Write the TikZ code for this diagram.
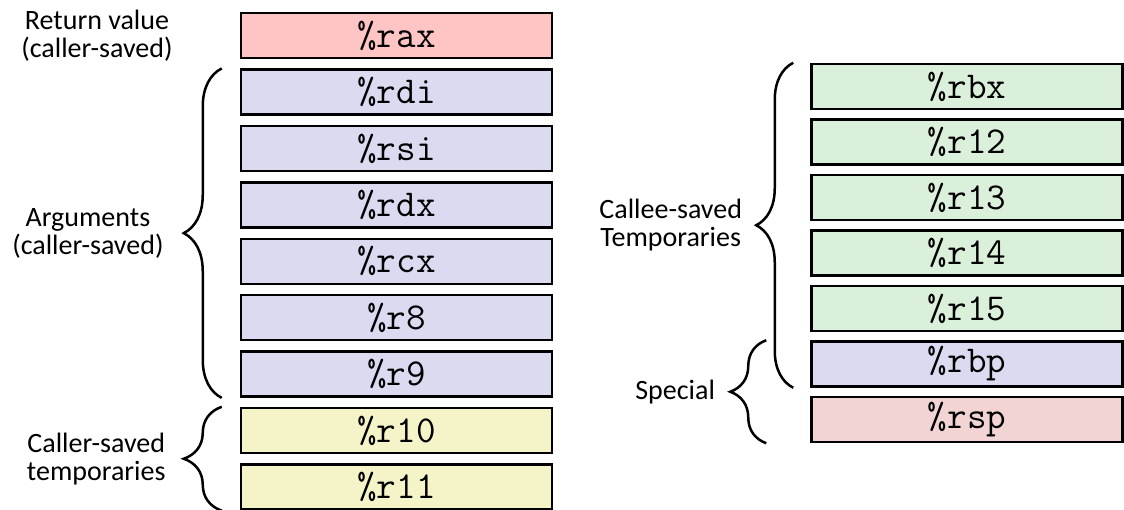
\documentclass[tikz,border=0pt]{standalone}
\usepackage{fontspec}
\setmainfont{Carlito}
\usetikzlibrary{positioning,decorations.pathreplacing}
\definecolor{retred}{HTML}{FFC5C5}
\definecolor{argblue}{HTML}{DADAF0}
\definecolor{tmpyellow}{HTML}{F5F3C8}
\definecolor{calleegreen}{HTML}{DAF0DA}
\definecolor{sppink}{HTML}{F2D4D4}

\begin{document}
\begin{tikzpicture}[x=1pt,y=-1pt,node distance=8.9pt,
reg/.style={draw=black,line width=2.5pt,minimum width=311pt,minimum height=45pt,inner sep=0pt,font=\fontsize{38}{38}\selectfont\ttfamily},
lbl/.style={align=center,inner sep=0pt,font=\fontsize{28}{28}\selectfont},
brc/.style={decorate,decoration={brace,amplitude=38pt},line width=2.5pt}]
\useasboundingbox (0,0) rectangle (1124,510);
% caller side
\node[reg,fill=retred] (rax) at (396.5,35.75) {\%rax};
\node[reg,fill=argblue,below=of rax] (rdi) {\%rdi};
\node[reg,fill=argblue,below=of rdi] (rsi) {\%rsi};
\node[reg,fill=argblue,below=of rsi] (rdx) {\%rdx};
\node[reg,fill=argblue,below=of rdx] (rcx) {\%rcx};
\node[reg,fill=argblue,below=of rcx] (r8) {\%r8};
\node[reg,fill=argblue,below=of r8] (r9) {\%r9};
\node[reg,fill=tmpyellow,below=of r9] (r10) {\%r10};
\node[reg,fill=tmpyellow,below=of r10] (r11) {\%r11};
\node[lbl,left=67pt of rax] (ret) {Return value\\(caller-saved)};
\draw[brc] ([xshift=-18pt]r9.south west) -- ([xshift=-18pt]rdi.north west)
  node[lbl,midway,left=57pt] (args) {Arguments\\(caller-saved)};
\draw[brc] ([xshift=-18pt]r11.south west) -- ([xshift=-18pt]r10.north west)
  node[lbl,midway,left=55pt] (ctmp) {Caller-saved\\temporaries};
% callee side
\node[reg,fill=calleegreen] (rbx) at (967,86.5) {\%rbx};
\node[reg,fill=calleegreen,below=8pt of rbx] (r12) {\%r12};
\node[reg,fill=calleegreen,below=8pt of r12] (r13) {\%r13};
\node[reg,fill=calleegreen,below=8pt of r13] (r14) {\%r14};
\node[reg,fill=calleegreen,below=8pt of r14] (r15) {\%r15};
\node[reg,fill=argblue,below=8pt of r15] (rbp) {\%rbp};
\node[reg,fill=sppink,below=8pt of rbp] (rsp) {\%rsp};
\draw[brc,decoration={amplitude=37pt}] ([xshift=-17pt]rbp.south west) -- ([xshift=-17pt]rbx.north west)
  node[lbl,midway,left=50pt] (ctmp2) {Callee-saved\\Temporaries};
\draw[brc,decoration={amplitude=36pt}] ([xshift=-44pt]rsp.south west) -- ([xshift=-44pt]rbp.north west)
  node[lbl,midway,left=50pt] (spec) {Special};
\end{tikzpicture}
\end{document}
